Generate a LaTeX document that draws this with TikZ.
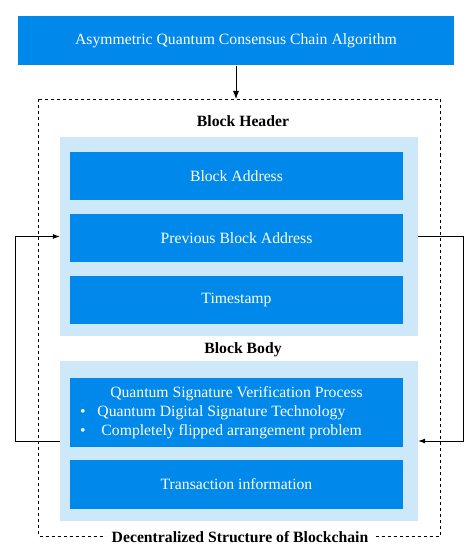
\documentclass[tikz,border=0pt]{standalone}
\usepackage{fontspec}
\setmainfont{Liberation Serif}
\usetikzlibrary{arrows.meta}
\definecolor{qblue}{RGB}{0,137,234}
\definecolor{qlight}{RGB}{204,232,249}
\tikzset{
  bluebox/.style={fill=qblue, text=white, minimum width=333pt, minimum height=48pt, inner sep=0pt, font=\fontsize{15.7}{19}\selectfont},
  lightbox/.style={fill=qlight, minimum width=358pt, inner sep=0pt},
  title/.style={font=\fontsize{15.7}{18}\selectfont\bfseries, inner sep=1pt},
  loop/.style={thick, -{Latex[length=7pt,width=5pt]}},
}
\begin{document}
\begin{tikzpicture}[x=1pt, y=-1pt]
			%%%%% START %%%%%
			\useasboundingbox (0,0) rectangle (472,556);
			
			\node[bluebox, minimum width=436pt, minimum height=49pt] (algo) at (236,41) {Asymmetric Quantum Consensus Chain Algorithm};
			
			\draw[dashed, thick] (38.5,99) rectangle (440,536);
			\node[title, fill=white, inner xsep=6pt] (chain) at (240,537) {Decentralized Structure of Blockchain};
			\draw[thick, -{Latex[length=8pt,width=6pt]}] (algo.south) -- (236,99);
			
			\node[title] (hdrlabel) at (243,121) {Block Header};
			\node[lightbox, minimum height=199pt] (hdr) at (239,236.5) {};
			\node[bluebox] (addr) at (236.5,176) {Block Address};
			\node[bluebox] (prev) at (236.5,238) {Previous Block Address};
			\node[bluebox] (time) at (236.5,300) {Timestamp};
			
			\node[title] (bodylabel) at (243,350) {Block Body};
			\node[lightbox, minimum height=160pt] (body) at (239,441) {};
			\node[bluebox, minimum height=69pt, align=center] (qsv) at (236.5,412.5) {Quantum Signature Verification Process\\
				\makebox[313pt][l]{\textbullet\hspace{12pt}Quantum Digital Signature Technology}\\
				\makebox[313pt][l]{\textbullet\hspace{16pt}Completely flipped arrangement problem}};
			\node[bluebox, minimum height=49pt] (trans) at (236.5,484.5) {Transaction information};
			
			\draw[loop] (body.west) -- ++(-44,0) |- (hdr.west);
			\draw[loop] (hdr.east) -- ++(45,0) |- (body.east);
			
			%%%%% END %%%%%
\end{tikzpicture}
\end{document}
